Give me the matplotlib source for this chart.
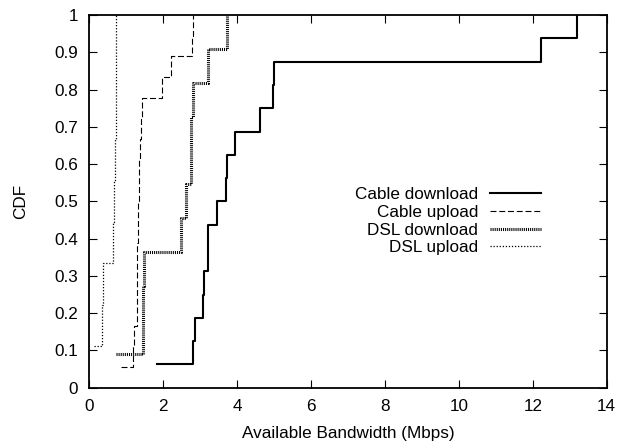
import matplotlib
matplotlib.use("Agg")
import matplotlib.pyplot as plt
import numpy as np

plt.rcParams['font.family'] = ['Liberation Sans', 'DejaVu Sans']
plt.rcParams['lines.scale_dashes'] = False

# Sample values (Mbps) read from the CDF steps
cable_download = [1.82, 2.80, 2.86, 3.08, 3.10, 3.20, 3.22, 3.45, 3.70, 3.72,
                  3.94, 4.62, 4.97, 4.99, 12.21, 13.20]
cable_upload = [0.87, 1.17, 1.21, 1.28, 1.29, 1.29, 1.30, 1.32, 1.33, 1.34,
                1.35, 1.37, 1.40, 1.42, 1.96, 2.20, 2.79, 2.80]
dsl_download = [0.72, 1.44, 1.45, 1.47, 2.48, 2.62, 2.74, 2.76, 2.81, 3.22, 3.73]
dsl_upload = [0.14, 0.34, 0.38, 0.65, 0.68, 0.70, 0.71, 0.72, 0.72]

labels = ["Cable download", "Cable upload", "DSL download", "DSL upload"]
xticks = [0, 2, 4, 6, 8, 10, 12, 14]
yticks = [0, 0.1, 0.2, 0.3, 0.4, 0.5, 0.6, 0.7, 0.8, 0.9, 1]
ytick_labels = ["0", "0.1", "0.2", "0.3", "0.4", "0.5", "0.6", "0.7", "0.8", "0.9", "1"]

styles = [
    dict(color='black', lw=1.5, linestyle='-'),
    dict(color='black', lw=0.8, linestyle=(0, (4.3, 2.0))),
    dict(color='black', lw=2.2, linestyle=(0, (0.75, 0.75))),
    dict(color='black', lw=0.9, linestyle=(0, (0.9, 1.3))),
]

FS = 12.3

fig = plt.figure(figsize=(6.18, 4.43), dpi=100)
ax = fig.add_axes([0.1445, 0.1248, 0.9817 - 0.1445, 0.966 - 0.1248])

for data, st in zip([cable_download, cable_upload, dsl_download, dsl_upload], styles):
    xs = np.sort(np.array(data))
    ys = np.arange(1, len(xs) + 1) / len(xs)
    ax.step(xs, ys, where='post', **st)

ax.set_xlim(0, 14)
ax.set_ylim(0, 1)
ax.set_xticks(xticks)
ax.set_yticks(yticks)
ax.set_yticklabels(ytick_labels)
ax.tick_params(direction='in', length=5.8, width=0.8, top=True, right=True,
               labelsize=FS, pad=8)
for s in ax.spines.values():
    s.set_linewidth(1.3)

ax.set_xlabel("Available Bandwidth (Mbps)", fontsize=FS, labelpad=9)
ax.set_ylabel("CDF", fontsize=FS, labelpad=19)

# Legend (right-aligned text, sample line to the right)
ys_leg = [0.523, 0.475, 0.426, 0.380]
for lab, st, yl in zip(labels, styles, ys_leg):
    ax.text(0.7513, yl, lab, ha='right', va='center_baseline', fontsize=FS,
            transform=ax.transAxes)
    ax.plot([0.7745, 0.8724], [yl, yl], transform=ax.transAxes, **st)

fig.savefig("out.png", dpi=100)
